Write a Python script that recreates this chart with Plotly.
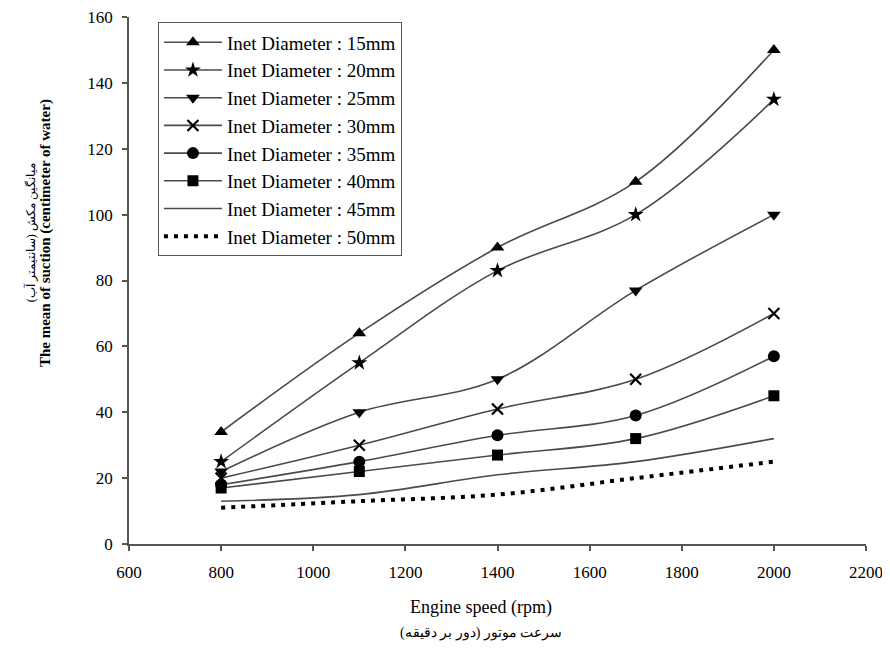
import plotly.graph_objects as go

speed = [800, 1100, 1400, 1700, 2000]
d15 = [34, 64, 90, 110, 150]
d20 = [25, 55, 83, 100, 135]
d25 = [22, 40, 50, 77, 100]
d30 = [20, 30, 41, 50, 70]
d35 = [18, 25, 33, 39, 57]
d40 = [17, 22, 27, 32, 45]
d45 = [13, 15, 21, 25, 32]
d50 = [11, 13, 15, 20, 25]

names = ["Inet Diameter : 15mm", "Inet Diameter : 20mm", "Inet Diameter : 25mm",
         "Inet Diameter : 30mm", "Inet Diameter : 35mm", "Inet Diameter : 40mm",
         "Inet Diameter : 45mm", "Inet Diameter : 50mm"]
series = [d15, d20, d25, d30, d35, d40, d45, d50]
symbols = ["triangle-up", "star", "triangle-down", "x-thin", "circle", "square", None, None]
sizes = [12, 12, 12, 11, 12, 11, 0, 0]

SERIF = "Liberation Serif"
fig = go.Figure()
for i, (nm, ys) in enumerate(zip(names, series)):
    if i < 6:
        mk = dict(symbol=symbols[i], size=sizes[i], color="black",
                  line=dict(color="black", width=2.2 if symbols[i] == "x-thin" else 0))
        fig.add_trace(go.Scatter(x=speed, y=ys, name=nm, mode="lines+markers",
                                 line=dict(color="#4a4a4a", width=1.6, shape="spline"),
                                 marker=mk, legendgroup=nm))
    elif i == 6:
        fig.add_trace(go.Scatter(x=speed, y=ys, name=nm, mode="lines",
                                 line=dict(color="#4a4a4a", width=1.6, shape="spline"),
                                 legendgroup=nm))
    else:
        fig.add_trace(go.Scatter(x=speed, y=ys, name=nm, mode="lines",
                                 line=dict(color="black", width=4, shape="spline", dash="4px,6px"),
                                 legendgroup=nm))

fig.update_layout(
    width=882, height=645,
    margin=dict(l=121, r=24, t=9, b=109, autoexpand=False),
    paper_bgcolor="white", plot_bgcolor="white",
    font=dict(family=SERIF, color="black", size=16),
    showlegend=True,
    legend=dict(x=0.039, y=0.99, xanchor="left", yanchor="top",
                bordercolor="#555555", borderwidth=1.2, bgcolor="white",
                font=dict(family=SERIF, size=19, color="black"),
                itemwidth=58, traceorder="grouped", tracegroupgap=0),
    xaxis=dict(range=[600, 2200], tickvals=[600, 800, 1000, 1200, 1400, 1600, 1800, 2000, 2200],
               showgrid=False, zeroline=False, showline=True, linecolor="#555555", linewidth=1.5,
               ticks="outside", ticklen=5, tickcolor="#555555", tickwidth=1.5,
               ticklabelstandoff=7, ticklabeloverflow="allow", automargin=False,
               tickfont=dict(family=SERIF, size=17, color="black")),
    yaxis=dict(range=[0, 160], tickvals=list(range(0, 161, 20)),
               showgrid=False, zeroline=False, showline=True, linecolor="#555555", linewidth=1.5,
               ticks="outside", ticklen=5, tickcolor="#555555", tickwidth=1.5,
               ticklabelstandoff=6, ticklabeloverflow="allow", automargin=False,
               tickfont=dict(family=SERIF, size=17, color="black")),
)
fig.add_annotation(text="<b>The mean of suction (centimeter of water)</b>", xref="paper", yref="paper",
                   x=-0.114, y=0.59, xanchor="center", yanchor="middle", textangle=-90,
                   showarrow=False, font=dict(family=SERIF, size=15, color="black"))
fig.add_annotation(text="میانگین مکش (سانتیمتر آب)", xref="paper", yref="paper",
                   x=-0.134, y=0.59, xanchor="center", yanchor="middle", textangle=-90,
                   showarrow=False, font=dict(family=SERIF, size=12, color="black"))
fig.add_annotation(text="Engine speed (rpm)", xref="paper", yref="paper", x=0.478, y=-0.12,
                   xanchor="center", yanchor="middle", showarrow=False,
                   font=dict(family=SERIF, size=18, color="black"))
fig.add_annotation(text="سرعت موتور (دور بر دقیقه)", xref="paper", yref="paper", x=0.478, y=-0.169,
                   xanchor="center", yanchor="middle", showarrow=False,
                   font=dict(family=SERIF, size=14, color="black"))
fig.write_html("out.html")
